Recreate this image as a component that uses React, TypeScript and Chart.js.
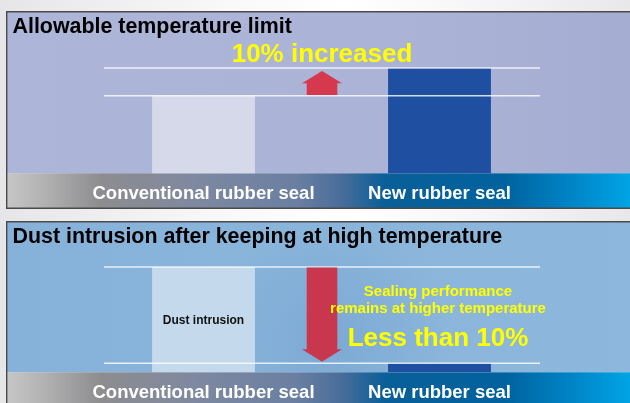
import { useEffect, useRef } from "react";
import { Chart, registerables } from "chart.js";
Chart.register(...registerables);

// ---- data ----
const categories = ["Conventional rubber seal", "New rubber seal"];
const tempLimit = [100, 110]; // allowable temperature limit (relative, conventional = 100)
const dustIntrusion = [100, 8.5]; // dust intrusion after high temperature (relative, conventional = 100)
const topTitle = "Allowable temperature limit";
const bottomTitle = "Dust intrusion after keeping at high temperature";
const topCallout = "10% increased";
const bottomCalloutLines = ["Sealing performance", "remains at higher temperature"];
const bottomCalloutBig = "Less than 10%";
const barNote = "Dust intrusion";

const FONT = "'Liberation Sans', Arial, Helvetica, sans-serif";

function stripGradient(ctx: CanvasRenderingContext2D) {
  const g = ctx.createLinearGradient(0, 0, 630, 0);
  g.addColorStop(0, "#cacaca");
  g.addColorStop(0.07, "#b2b2b2");
  g.addColorStop(0.16, "#8d8d90");
  g.addColorStop(0.32, "#7d88a0");
  g.addColorStop(0.47, "#6a7fa2");
  g.addColorStop(0.54, "#4a6d9a");
  g.addColorStop(0.61, "#0a5f98");
  g.addColorStop(0.8, "#00629e");
  g.addColorStop(0.9, "#0082c4");
  g.addColorStop(1, "#00a4e4");
  return g;
}

function drawArrow(
  ctx: CanvasRenderingContext2D,
  cx: number,
  yTail: number,
  yTip: number,
  color: string
) {
  const shaftHalf = 15.3;
  const headHalf = 20;
  const headH = 12.3;
  const dir = yTip < yTail ? -1 : 1;
  const yHeadBase = yTip - dir * headH;
  ctx.save();
  ctx.fillStyle = color;
  ctx.beginPath();
  ctx.moveTo(cx - shaftHalf, yTail);
  ctx.lineTo(cx - shaftHalf, yHeadBase);
  ctx.lineTo(cx - headHalf, yHeadBase);
  ctx.lineTo(cx, yTip);
  ctx.lineTo(cx + headHalf, yHeadBase);
  ctx.lineTo(cx + shaftHalf, yHeadBase);
  ctx.lineTo(cx + shaftHalf, yTail);
  ctx.closePath();
  ctx.fill();
  ctx.restore();
}

type PanelOpts = {
  panelTop: number;
  stripBottom: number;
  title: string;
  bg: (ctx: CanvasRenderingContext2D, top: number, bottom: number) => CanvasGradient | string;
  extra: (chart: any) => void;
  spot?: boolean;
};

function panelPlugin(o: PanelOpts) {
  return {
    id: "panel",
    beforeDraw(chart: any) {
      const ctx: CanvasRenderingContext2D = chart.ctx;
      const area = chart.chartArea;
      const left = 6.7;
      ctx.save();
      ctx.fillStyle = o.bg(ctx, o.panelTop, area.bottom);
      ctx.fillRect(left, o.panelTop, 630 - left, area.bottom - o.panelTop);
      if (o.spot) {
        const rg = ctx.createRadialGradient(330, 125, 5, 330, 125, 120);
        rg.addColorStop(0, "rgba(100,150,200,0.35)");
        rg.addColorStop(1, "rgba(100,150,200,0)");
        ctx.fillStyle = rg;
        ctx.fillRect(left, o.panelTop, 630 - left, area.bottom - o.panelTop);
      }
      // category strip
      ctx.fillStyle = stripGradient(ctx);
      ctx.fillRect(left, area.bottom, 630 - left, o.stripBottom - area.bottom);
      // category labels
      const xs = chart.scales.x;
      ctx.fillStyle = "#ffffff";
      ctx.font = `bold 18.5px ${FONT}`;
      ctx.textAlign = "center";
      ctx.textBaseline = "alphabetic";
      chart.data.labels.forEach((lab: string, i: number) => {
        ctx.fillText(lab, xs.getPixelForValue(i), area.bottom + 26);
      });
      // title
      ctx.fillStyle = "#000000";
      ctx.font = `bold 21.4px ${FONT}`;
      ctx.textAlign = "left";
      ctx.fillText(o.title, 12.5, o.panelTop + 21.5);
      ctx.restore();
    },
    afterDatasetsDraw(chart: any) {
      const ctx: CanvasRenderingContext2D = chart.ctx;
      o.extra(chart);
      // border
      ctx.save();
      ctx.strokeStyle = "#4a4a4a";
      ctx.lineWidth = 1.4;
      ctx.beginPath();
      ctx.moveTo(640, o.panelTop);
      ctx.lineTo(6.7, o.panelTop);
      ctx.lineTo(6.7, o.stripBottom);
      ctx.lineTo(640, o.stripBottom);
      ctx.stroke();
      ctx.restore();
    },
  };
}

function refLines(chart: any, values: number[]) {
  const ctx: CanvasRenderingContext2D = chart.ctx;
  const xs = chart.scales.x;
  const ys = chart.scales.y;
  const x0 = xs.getPixelForValue(0) - 99.5;
  const x1 = xs.getPixelForValue(1) + 100.5;
  ctx.save();
  ctx.strokeStyle = "rgba(255,255,255,0.8)";
  ctx.lineWidth = 1.5;
  values.forEach((v) => {
    const y = ys.getPixelForValue(v);
    ctx.beginPath();
    ctx.moveTo(x0, y);
    ctx.lineTo(x1, y);
    ctx.stroke();
  });
  ctx.restore();
}

function PanelChart(props: {
  top: number;
  height: number;
  data: number[];
  colors: string[];
  yMin: number;
  yMax: number;
  padding: { left: number; right: number; top: number; bottom: number };
  plugin: any;
}) {
  const ref = useRef<HTMLCanvasElement | null>(null);
  useEffect(() => {
    if (!ref.current) return;
    const chart = new Chart(ref.current, {
      type: "bar",
      data: {
        labels: categories,
        datasets: [
          {
            data: props.data,
            backgroundColor: props.colors,
            borderWidth: 0,
            categoryPercentage: 0.436,
            barPercentage: 1,
          },
        ],
      },
      options: {
        animation: false,
        responsive: false,
        devicePixelRatio: 1,
        layout: { padding: props.padding },
        plugins: { legend: { display: false }, tooltip: { enabled: false }, title: { display: false } },
        scales: {
          x: { display: false },
          y: { display: false, min: props.yMin, max: props.yMax },
        },
      },
      plugins: [props.plugin],
    } as any);
    return () => chart.destroy();
  }, []);
  return (
    <canvas
      ref={ref}
      width={630}
      height={props.height}
      style={{ position: "absolute", left: 0, top: props.top, width: 630, height: props.height }}
    />
  );
}

const topPlugin = panelPlugin({
  panelTop: 11.7,
  stripBottom: 208.3,
  title: topTitle,
  bg: (ctx) => {
    const g = ctx.createLinearGradient(0, 0, 630, 0);
    g.addColorStop(0, "#adb5d8");
    g.addColorStop(0.6, "#abb3d7");
    g.addColorStop(1, "#a6add2");
    return g;
  },
  extra: (chart: any) => {
    const ctx: CanvasRenderingContext2D = chart.ctx;
    const xs = chart.scales.x;
    const ys = chart.scales.y;
    refLines(chart, tempLimit);
    const cx = (xs.getPixelForValue(0) + xs.getPixelForValue(1)) / 2 + 0.5;
    drawArrow(ctx, cx, ys.getPixelForValue(tempLimit[0]) - 0.7, ys.getPixelForValue(tempLimit[1]) + 3, "#d6384e");
    ctx.save();
    ctx.fillStyle = "#ffff00";
    ctx.font = `bold 26px ${FONT}`;
    ctx.textAlign = "center";
    ctx.fillText(topCallout, cx, ys.getPixelForValue(tempLimit[1]) - 5.5);
    ctx.restore();
  },
});

const bottomPlugin = panelPlugin({
  panelTop: 6.7,
  stripBottom: 200,
  title: bottomTitle,
  spot: true,
  bg: (ctx) => {
    const g = ctx.createLinearGradient(0, 0, 630, 0);
    g.addColorStop(0, "#86b2da");
    g.addColorStop(0.5, "#8ab5db");
    g.addColorStop(1, "#8db7dc");
    return g;
  },
  extra: (chart: any) => {
    const ctx: CanvasRenderingContext2D = chart.ctx;
    const xs = chart.scales.x;
    const ys = chart.scales.y;
    const area = chart.chartArea;
    refLines(chart, dustIntrusion);
    const cx = (xs.getPixelForValue(0) + xs.getPixelForValue(1)) / 2 + 0.5;
    drawArrow(ctx, cx, ys.getPixelForValue(dustIntrusion[0]) + 0.5, ys.getPixelForValue(dustIntrusion[1]) - 1.7, "#c9374f");
    ctx.save();
    ctx.textAlign = "center";
    ctx.fillStyle = "#111111";
    ctx.font = `bold 12px ${FONT}`;
    ctx.fillText(barNote, xs.getPixelForValue(0), area.top + 67.5);
    const tx = xs.getPixelForValue(1) - 1.5;
    ctx.fillStyle = "#ffff00";
    ctx.font = `bold 15px ${FONT}`;
    ctx.fillText(bottomCalloutLines[0], tx, area.top + 39.2);
    ctx.fillText(bottomCalloutLines[1], tx, area.top + 56.5);
    ctx.font = `bold 26px ${FONT}`;
    ctx.fillText(bottomCalloutBig, tx, area.top + 89.5);
    ctx.restore();
  },
});

export default function App() {
  return (
    <div
      style={{
        position: "fixed",
        left: 0,
        top: 0,
        width: 630,
        height: 403,
        overflow: "hidden",
        background: "linear-gradient(90deg, #e6e6e8 0%, #f8f8f9 35%, #ffffff 55%, #f4f4f6 80%, #e8e8ea 100%)",
      }}
    >
      <PanelChart
        top={0}
        height={215}
        data={tempLimit}
        colors={["#d5d9ea", "#1f4fa0"]}
        yMin={72}
        yMax={121}
        padding={{ left: 85.5, right: 72.5, top: 37.5, bottom: 41.7 }}
        plugin={topPlugin}
      />
      <PanelChart
        top={215}
        height={188}
        data={dustIntrusion}
        colors={["#c4d9ec", "#1f4fa0"]}
        yMin={0}
        yMax={110}
        padding={{ left: 85.5, right: 72.5, top: 41.5, bottom: 30.7 }}
        plugin={bottomPlugin}
      />
    </div>
  );
}
